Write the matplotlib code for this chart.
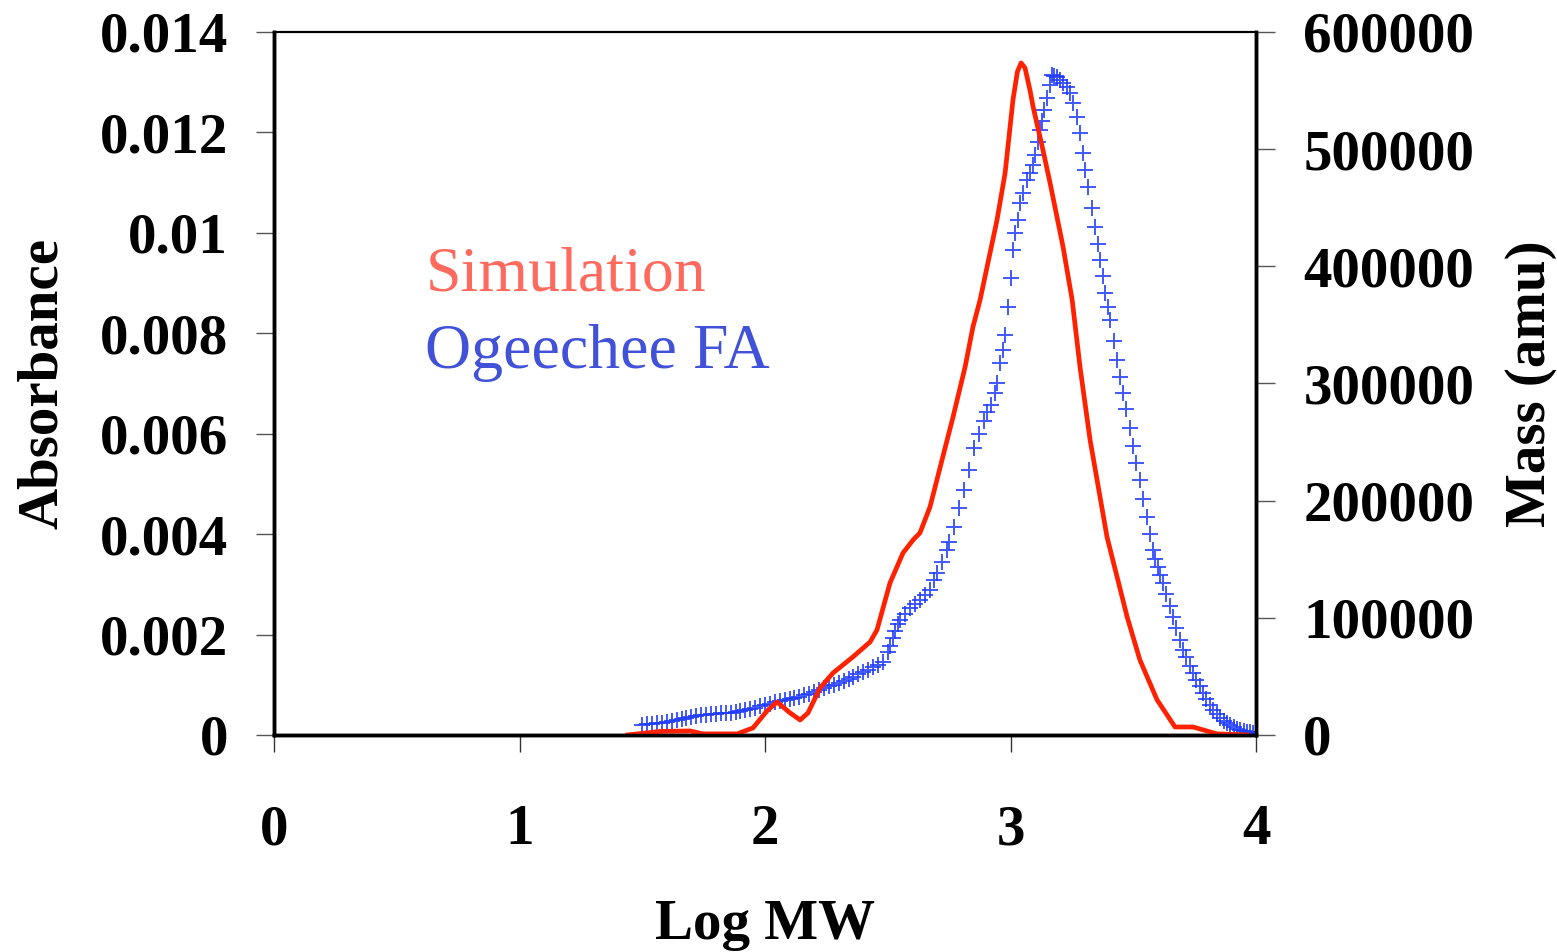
import numpy as np
import matplotlib
matplotlib.use('Agg')
import matplotlib.pyplot as plt

plt.rcParams['font.family'] = ['Liberation Serif', 'DejaVu Serif']

# Ogeechee FA (absorbance, left axis)
logmw_fa = [1.50, 1.52, 1.54, 1.56, 1.58, 1.60, 1.62, 1.64, 1.66, 1.68,
            1.70, 1.72, 1.74, 1.76, 1.78, 1.80, 1.82, 1.84, 1.86, 1.88,
            1.90, 1.92, 1.94, 1.96, 1.98, 2.00, 2.02, 2.04, 2.06, 2.08,
            2.10, 2.12, 2.14, 2.16, 2.18, 2.20, 2.22, 2.24, 2.26, 2.28,
            2.30, 2.32, 2.34, 2.36, 2.38, 2.40, 2.42, 2.44, 2.46, 2.48,
            2.50, 2.51, 2.52, 2.53, 2.54, 2.55, 2.57, 2.59, 2.61, 2.63,
            2.65, 2.67, 2.69, 2.70, 2.72, 2.74, 2.75, 2.77, 2.79, 2.81,
            2.83, 2.85, 2.87, 2.89, 2.905, 2.92, 2.935, 2.945, 2.957, 2.970,
            2.978, 2.990, 3.000, 3.010, 3.020, 3.030, 3.040, 3.052, 3.067, 3.080,
            3.090, 3.100, 3.110, 3.120, 3.128, 3.138, 3.149, 3.160, 3.169, 3.179,
            3.189, 3.200, 3.214, 3.228, 3.242, 3.255, 3.271, 3.283, 3.295, 3.305,
            3.316, 3.330, 3.344, 3.355, 3.365, 3.375, 3.385, 3.395, 3.405, 3.420,
            3.434, 3.446, 3.458, 3.470, 3.485, 3.499, 3.513, 3.527, 3.541, 3.556,
            3.568, 3.580, 3.590, 3.600, 3.610, 3.621, 3.634, 3.648, 3.662, 3.675,
            3.690, 3.703, 3.716, 3.730, 3.743, 3.757, 3.770, 3.784, 3.798, 3.811,
            3.825, 3.840, 3.855, 3.870, 3.882, 3.895, 3.910, 3.922, 3.935, 3.950,
            3.962, 3.975, 3.988, 4.000]
absorb_fa = [0.00020, 0.00021, 0.00022, 0.00023, 0.00024, 0.00026, 0.00028, 0.00030, 0.00032, 0.00034,
             0.00036, 0.00038, 0.00039, 0.00040, 0.00041, 0.00042, 0.00043, 0.00043, 0.00044, 0.00045,
             0.00047, 0.00049, 0.00051, 0.00054, 0.00057, 0.00059, 0.00062, 0.00065, 0.00067, 0.00069,
             0.00071, 0.00073, 0.00076, 0.00079, 0.00082, 0.00085, 0.00089, 0.00093, 0.00097, 0.00100,
             0.00104, 0.00108, 0.00112, 0.00116, 0.00121, 0.00126, 0.00130, 0.00135, 0.00140, 0.00146,
             0.00165, 0.00178, 0.00193, 0.00207, 0.00220, 0.00229, 0.00241, 0.00252, 0.00260, 0.00268,
             0.00278, 0.00288, 0.00308, 0.00323, 0.00345, 0.00368, 0.00385, 0.00415, 0.00452, 0.00487,
             0.00528, 0.00572, 0.00600, 0.00625, 0.00643, 0.00657, 0.00680, 0.00701, 0.00741, 0.00767,
             0.00797, 0.00852, 0.00910, 0.00965, 0.01000, 0.01025, 0.01060, 0.01080, 0.01106, 0.01120,
             0.01135, 0.01155, 0.01180, 0.01205, 0.01222, 0.01245, 0.01268, 0.01295, 0.01314, 0.01312,
             0.01310, 0.01305, 0.01298, 0.01290, 0.01278, 0.01258, 0.01231, 0.01198, 0.01159, 0.01125,
             0.01091, 0.01050, 0.01012, 0.00978, 0.00946, 0.00913, 0.00881, 0.00853, 0.00826, 0.00785,
             0.00747, 0.00713, 0.00681, 0.00650, 0.00612, 0.00576, 0.00541, 0.00508, 0.00470, 0.00434,
             0.00400, 0.00368, 0.00350, 0.00335, 0.00318, 0.00303, 0.00280, 0.00257, 0.00235, 0.00212,
             0.00190, 0.00169, 0.00155, 0.00138, 0.00123, 0.00110, 0.00097, 0.00084, 0.00072, 0.00060,
             0.00050, 0.00041, 0.00034, 0.00028, 0.00024, 0.00019, 0.00015, 0.00012, 0.00010, 0.00008,
             0.00006, 0.00005, 0.00004, 0.00003]

# Simulation (mass, right axis)
logmw_sim = [1.44, 1.572, 1.695, 1.747, 1.886, 1.951, 2.008, 2.049, 2.102, 2.143,
             2.175, 2.224, 2.277, 2.358, 2.428, 2.456, 2.509, 2.562, 2.603, 2.631,
             2.672, 2.721, 2.766, 2.815, 2.847, 2.876, 2.945, 2.978, 3.010, 3.028,
             3.043, 3.059, 3.079, 3.092, 3.132, 3.161, 3.214, 3.251, 3.283, 3.324,
             3.393, 3.475, 3.527, 3.597, 3.670, 3.743, 3.841, 3.963]
mass_sim = [0, 3000, 3400, 900, 900, 6000, 20500, 28200, 18800, 12800,
            18800, 40100, 52900, 66600, 79400, 89600, 129700, 155300, 166400, 172400,
            194600, 234800, 271500, 314100, 348300, 371300, 439500, 479700, 542000, 566000,
            573500, 569300, 550500, 536000, 499300, 471100, 416500, 371300, 314100, 251800,
            169000, 100700, 64000, 29900, 6800, 6800, 900, 0]

xticks = [0, 1, 2, 3, 4]
left_ticks = [0, 0.002, 0.004, 0.006, 0.008, 0.01, 0.012, 0.014]
left_labels = ['0', '0.002', '0.004', '0.006', '0.008', '0.01', '0.012', '0.014']
right_ticks = [0, 100000, 200000, 300000, 400000, 500000, 600000]

fig = plt.figure(figsize=(15.57, 9.52), dpi=100)
ax = fig.add_axes([0.176, 0.228, 0.6307, 0.7385])
ax2 = ax.twinx()

ax.plot(logmw_fa, absorb_fa, '+', color='#1f3cff', ms=12, mew=1.4, alpha=0.85)
ax2.plot(logmw_sim, mass_sim, '-', color='#ff2200', lw=3.4)

ax.set_xlim(0, 4)
ax.set_ylim(0, 0.014)
ax2.set_ylim(0, 600000)

tickfont = dict(fontsize=41, fontweight='bold')
ax.set_xticks(xticks)
ax.set_xticklabels([str(t) for t in xticks], **tickfont)
ax.set_yticks(left_ticks)
ax.set_yticklabels(left_labels, **tickfont)
ax2.set_yticks(right_ticks)
ax2.set_yticklabels([str(t) for t in right_ticks], **tickfont)

ax.tick_params(axis='x', direction='out', length=12, width=1, color='#333333', pad=38)
ax.tick_params(axis='y', direction='out', length=13, width=1, color='#555555', pad=20)
ax2.tick_params(axis='y', direction='out', length=14, width=1, color='#555555', pad=20)

for a in (ax, ax2):
    for side in ('left', 'right', 'bottom'):
        a.spines[side].set_linewidth(2.5)
        a.spines[side].set_color('black')
    a.spines['top'].set_linewidth(1.5)

ax.set_xlabel('Log MW', fontsize=41, fontweight='bold', labelpad=31)
ax.set_ylabel('Absorbance', fontsize=41, fontweight='bold', labelpad=22)
ax2.set_ylabel('Mass (amu)', fontsize=41, fontweight='bold', rotation=90, labelpad=22)

ax.text(0.154, 0.632, 'Simulation', transform=ax.transAxes, fontsize=46,
        color='#ff6a5e', va='baseline', ha='left')
ax.text(0.154, 0.522, 'Ogeechee FA', transform=ax.transAxes, fontsize=46,
        color='#4152d8', va='baseline', ha='left')

plt.savefig('out.png', dpi=100)
